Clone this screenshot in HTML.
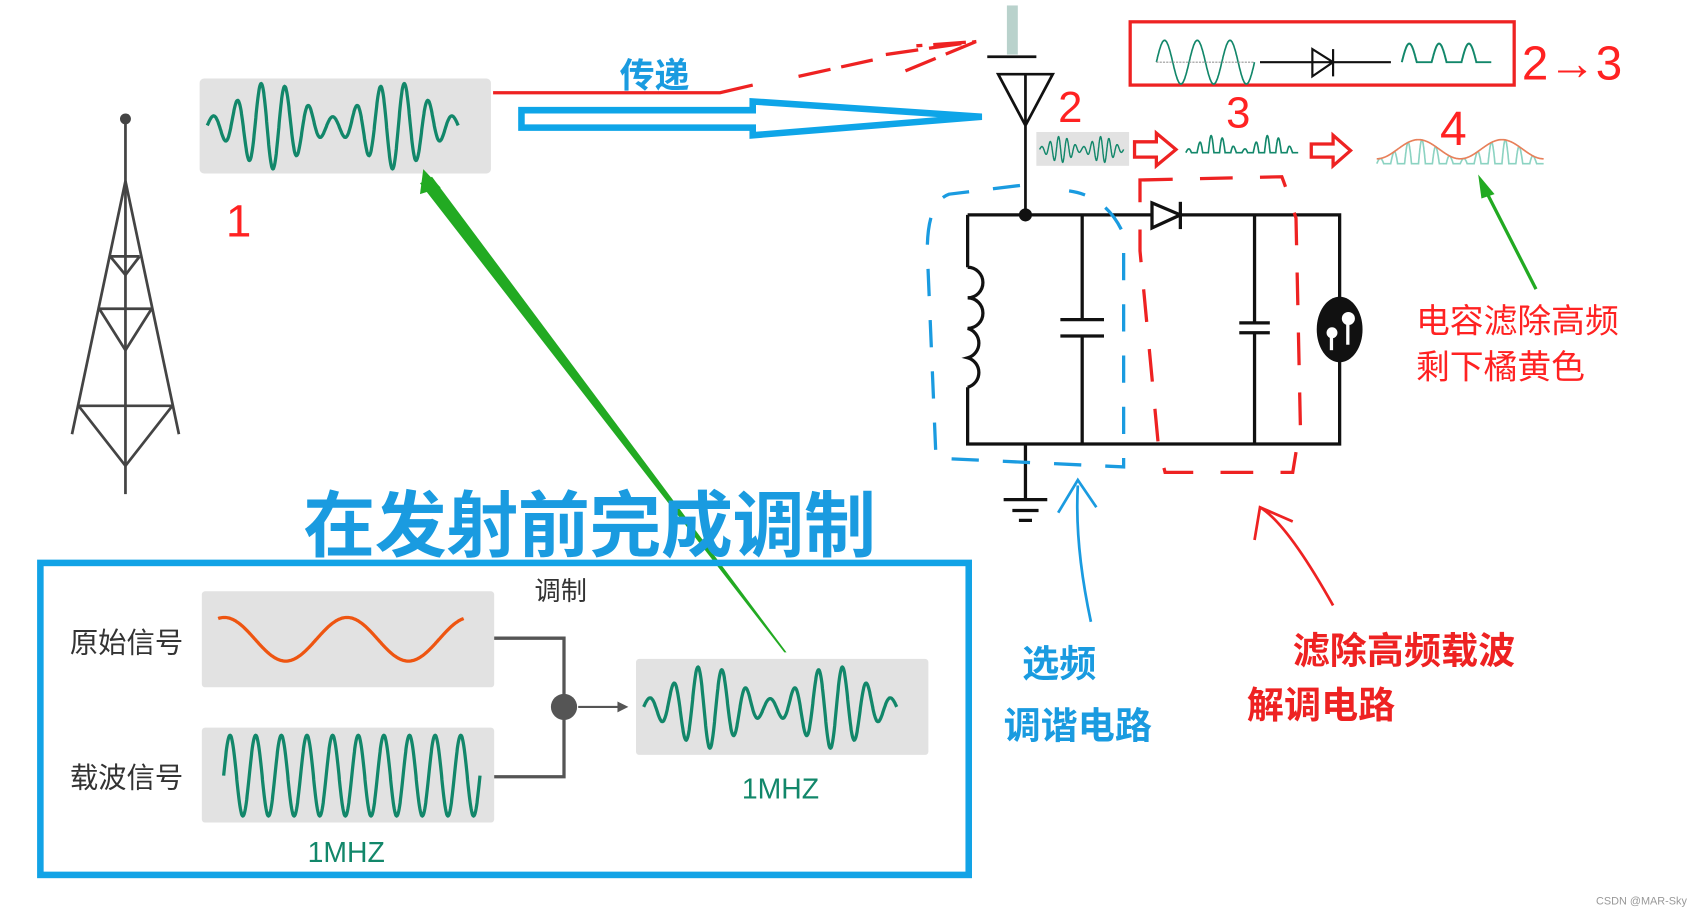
<!DOCTYPE html>
<html><head><meta charset="utf-8"><style>
html,body{margin:0;padding:0;background:#fff;width:1704px;height:912px;overflow:hidden}
svg{display:block}
text{font-family:"Liberation Sans","Noto Sans CJK SC",sans-serif}
</style></head><body>
<svg id="s" width="1704" height="912" viewBox="0 0 1562 836" preserveAspectRatio="none" xmlns="http://www.w3.org/2000/svg">
<!-- tower -->
<g stroke="#444" stroke-width="2.5" fill="none">
<line x1="115" y1="110" x2="115" y2="453"/>
<line x1="115" y1="166" x2="66" y2="398"/>
<line x1="115" y1="166" x2="164" y2="398"/>
<line x1="101" y1="235" x2="128" y2="235"/><polyline points="101,235 115,252 128,235"/>
<line x1="91" y1="283" x2="139" y2="283"/><polyline points="91,283 115,321 139,283"/>
<line x1="72" y1="372" x2="158" y2="372"/><polyline points="72,372 115,427 158,372"/>
</g>
<circle cx="115" cy="109" r="5" fill="#444"/>
<!-- box 1 -->
<rect x="183" y="72" width="267" height="87" rx="4" fill="#e2e2e2"/>
<path id="w1" fill="none" stroke="#12876a" stroke-width="3"/>
<text x="207" y="217" font-size="42" fill="#f22">1</text>
<!-- red transfer line -->
<path d="M452,85 L660,85 L690,78" stroke="#e22" stroke-width="3" fill="none"/>
<path d="M732,70 L800,55 M812,50 L895,38 M830,65 L895,38 L840,42" stroke="#e22" stroke-width="3" fill="none" stroke-dasharray="30 10"/>
<text x="568" y="80" font-size="32" font-weight="bold" fill="#1a9be0">传递</text>
<!-- blue hollow arrow -->
<path d="M478,101 L690,101 L690,93 L900,107 L690,124 L690,117 L478,117z" fill="#fff" stroke="#0ea5e8" stroke-width="6"/>
<!-- antenna -->
<rect x="923" y="5" width="10" height="45" fill="#9bbfb6" opacity=".7"/>
<line x1="905" y1="52" x2="950" y2="52" stroke="#111" stroke-width="2.5"/>
<path d="M915,68 L965,68 L940,115z M940,68 V198" stroke="#111" stroke-width="2.5" fill="none"/>
<text x="970" y="112" font-size="40" fill="#f22">2</text>
<rect x="950" y="121" width="85" height="31" fill="#e2e2e2"/>
<path id="w2" fill="none" stroke="#12876a" stroke-width="1.3"/>
<path d="M1040,130 h20 v-8 l18,15 l-18,15 v-8 h-20z" fill="#fff" stroke="#e22" stroke-width="3"/>
<path d="M1202,132 h20 v-8 l16,14 l-16,14 v-8 h-20z" fill="#fff" stroke="#e22" stroke-width="3"/>
<text x="1124" y="117" font-size="40" fill="#f22">3</text>
<path id="w3" fill="none" stroke="#12876a" stroke-width="1.5"/>
<text x="1320" y="133" font-size="44" fill="#f22">4</text>
<path id="w4" fill="none" stroke="#8cd3c2" stroke-width="1.5"/>
<path id="w4e" fill="none" stroke="#e8805a" stroke-width="1.5"/>
<!-- red box -->
<rect x="1036" y="20" width="352" height="58" fill="none" stroke="#e22" stroke-width="3"/>
<path id="w5" fill="none" stroke="#12876a" stroke-width="1.5"/>
<line x1="1060" y1="57" x2="1150" y2="57" stroke="#999" stroke-dasharray="2 1"/>
<path d="M1155,57 H1275 M1203,45 V70 L1222,57z M1222,45 V70" stroke="#111" stroke-width="2" fill="none"/>
<path id="w6" fill="none" stroke="#12876a" stroke-width="1.8"/>
<text x="1395" y="73" font-size="44" fill="#f22" textLength="92" lengthAdjust="spacingAndGlyphs">2→3</text>
<!-- circuit -->
<g stroke="#111" stroke-width="3" fill="none">
<path d="M887,197 H1228 V407 H887 V355 M887,245 V197"/>
<path d="M887,245 a14,14 0 0 1 0,28 a14,14 0 0 1 0,28 a14,14 0 0 1 0,27 a14,14 0 0 1 0,27"/>
<path d="M992,197 V293 M972,293 H1012 M972,308 H1012 M992,308 V407"/>
<path d="M1150,197 V296 M1136,296 H1164 M1136,305 H1164 M1150,305 V407"/>
<path d="M940,407 V458 M920,458 H960 M928,468 H952 M934,477 H946"/>
<path d="M1082,185 V210"/>
</g>
<path d="M1056,186 L1082,197 L1056,209z" fill="#fff" stroke="#111" stroke-width="3"/>
<circle cx="940" cy="197" r="6" fill="#111"/>
<ellipse cx="1228" cy="302" rx="21" ry="30" fill="#111"/>
<circle cx="1221" cy="305" r="5" fill="#fff"/><rect x="1219" y="305" width="3" height="16" fill="#fff"/>
<circle cx="1236" cy="292" r="6" fill="#fff"/><rect x="1234" y="292" width="3" height="24" fill="#fff"/>
<!-- dashed outlines -->
<path d="M935,170 L870,178 Q850,185 850,230 L858,420 L1030,428 L1030,215 Q1015,180 980,175" fill="none" stroke="#1a9be0" stroke-width="3" stroke-dasharray="25 22"/>
<path d="M1045,165 L1175,162 Q1180,175 1188,200 L1192,390 L1185,433 L1068,433 L1062,410 L1045,230z" fill="none" stroke="#e22" stroke-width="3" stroke-dasharray="30 25"/>
<!-- hand arrows -->
<path d="M1000,570 Q985,500 988,445 M970,470 L988,440 L1005,465" fill="none" stroke="#1a9be0" stroke-width="2.5"/>
<path d="M1222,555 Q1180,480 1155,465 M1150,495 L1155,465 L1185,478" fill="none" stroke="#e22" stroke-width="2.5"/>
<text x="937" y="620" font-size="34" font-weight="bold" fill="#1a9be0">选频</text>
<text x="920" y="677" font-size="34" font-weight="bold" fill="#1a9be0">调谐电路</text>
<text x="1185" y="608" font-size="34" font-weight="bold" fill="#e22">滤除高频载波</text>
<text x="1143" y="658" font-size="34" font-weight="bold" fill="#e22">解调电路</text>
<text x="1298" y="305" font-size="31" fill="#f22">电容滤除高频</text>
<text x="1298" y="347" font-size="31" fill="#f22">剩下橘黄色</text>
<!-- green arrows -->
<line x1="1408" y1="265" x2="1362" y2="175" stroke="#22aa22" stroke-width="3"/>
<path d="M1355,160 L1370,178 L1358,182z" fill="#22aa22"/>
<path d="M385,168 L396,162 L721,598 L719,598z" fill="#22aa22"/>
<path d="M388,155 L404,172 L385,178z" fill="#22aa22"/>
<!-- title -->
<text x="278" y="505" font-size="66" font-weight="bold" fill="#1a9be0" textLength="525">在发射前完成调制</text>
<rect x="37" y="516" width="851" height="286" fill="none" stroke="#12a3e6" stroke-width="6"/>
<text x="490" y="550" font-size="24" fill="#333">调制</text>
<text x="64" y="598" font-size="26" fill="#333">原始信号</text>
<text x="64" y="722" font-size="26" fill="#333">载波信号</text>
<rect x="185" y="542" width="268" height="88" rx="3" fill="#e2e2e2"/>
<rect x="185" y="667" width="268" height="87" rx="3" fill="#e2e2e2"/>
<rect x="583" y="604" width="268" height="88" rx="3" fill="#e2e2e2"/>
<path id="w7" fill="none" stroke="#ee5511" stroke-width="3"/>
<path id="w8" fill="none" stroke="#12876a" stroke-width="3"/>
<path id="w9" fill="none" stroke="#12876a" stroke-width="3"/>
<path d="M453,585 H517 V712 H453" fill="none" stroke="#555" stroke-width="3"/>
<circle cx="517" cy="648" r="12" fill="#555"/>
<path d="M530,648 H568" stroke="#555" stroke-width="2"/><path d="M566,643 L576,648 L566,653z" fill="#555"/>
<text x="680" y="732" font-size="26" fill="#12876a">1MHZ</text>
<text x="282" y="790" font-size="26" fill="#12876a">1MHZ</text>
<text x="1463" y="829" font-size="10" fill="#999">CSDN @MAR-Sky</text>
</svg>
<script>
function am(id,x0,x1,cy,A,nc,ne,base,ph,mode){
 var d='',N=600;
 for(var i=0;i<=N;i++){var t=i/N,x=x0+(x1-x0)*t;
  var env=base+(1-base)*(0.5-0.5*Math.cos(2*Math.PI*ne*t+ph));
  var c=Math.sin(2*Math.PI*nc*t);
  var y;
  if(mode==1){y=cy-A*env*Math.max(c,0);}
  else if(mode==2){y=cy-A*Math.max(c,0);}
  else if(mode==3){y=cy-A*env;}
  else y=cy-A*env*c;
  d+=(i?'L':'M')+x.toFixed(1)+','+y.toFixed(1);}
 document.getElementById(id).setAttribute('d',d);
}
am('w1',190,420,115,40,10.5,2,0.2,0,0);
am('w2',953,1030,137,12,10,2,0.2,0,0);
am('w3',1087,1190,140,16,10,2,0.2,0,1);
am('w4',1262,1415,150,22,12,2,0.2,0,1);
am('w4e',1262,1415,150,22,12,2,0.2,0,3);
am('w5',1060,1150,57,20,3,1,1,0,0);
am('w6',1285,1367,57,17,3,1,1,0,2);
document.getElementById('w7').setAttribute('d',(function(){var d='';for(var i=0;i<=300;i++){var t=i/300,x=200+225*t,y=586+20*Math.cos(2*Math.PI*2*t+Math.PI*0.9);d+=(i?'L':'M')+x.toFixed(1)+','+y.toFixed(1);}return d;})());
am('w8',205,440,711,37,10,1,1,0,0);
am('w9',590,822,648,38,10.5,2,0.2,0,0);
</script>
</body></html>
